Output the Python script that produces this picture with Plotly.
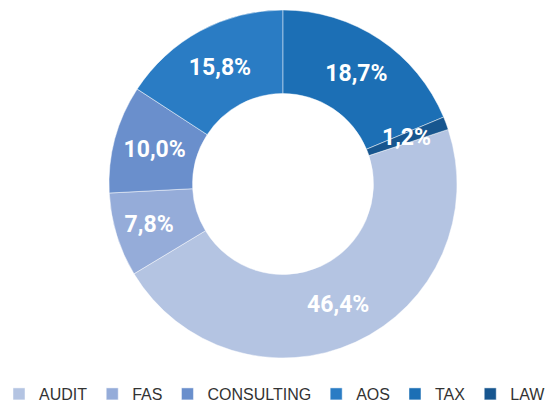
import math
import plotly.graph_objects as go

categories = ["AUDIT", "FAS", "CONSULTING", "AOS", "TAX", "LAW"]
values = [46.4, 7.8, 10.0, 15.8, 18.7, 1.2]
colors = ["#b4c4e2", "#95acd9", "#6a8fcc", "#2a7cc4", "#1c6fb5", "#17568f"]

labels_txt = [f"{v:.1f}".replace(".", ",") + "%" for v in values]

total = sum(values)
# AUDIT starts right after TAX and LAW (which start at 12 o'clock)
start_frac = (values[4] + values[5]) / total
rotation = 360 * start_frac

small = [v / total < 0.03 for v in values]
slice_text = ["" if s else t for s, t in zip(small, labels_txt)]

LBL_FONT = dict(family="Roboto, DejaVu Sans, sans-serif", size=23, color="white", weight="bold")

fig = go.Figure()
fig.add_trace(go.Pie(
    labels=categories,
    values=values,
    text=slice_text,
    textinfo="text",
    textposition="inside",
    insidetextorientation="horizontal",
    hole=0.52,
    sort=False,
    direction="clockwise",
    rotation=rotation,
    marker=dict(colors=colors, line=dict(color="rgba(255,255,255,0.6)", width=0.8)),
    textfont=LBL_FONT,
    domain=dict(x=[0, 1], y=[0, 1]),
    hoverinfo="label+percent",
))

# Labels for slices too thin for plotly to keep at full size: placed at mid-radius
W, Hh = 558, 402
M_L, M_R, M_T, M_B = 8, 0, 10, 44
plot_w = W - M_L - M_R
plot_h = Hh - M_T - M_B
R = plot_h / 2
r_mid = R * (1 + 0.52) / 2
cum = 0.0
annotations = []
for i, v in enumerate(values):
    mid = start_frac + (cum + v / 2) / total
    cum += v
    if small[i]:
        ang = 2 * math.pi * mid
        dx = r_mid * math.sin(ang) / plot_w
        dy = r_mid * math.cos(ang) / plot_h
        annotations.append(dict(
            x=0.5 + dx, y=0.5 + dy, xref="paper", yref="paper",
            xanchor="center", yanchor="middle",
            text=labels_txt[i], showarrow=False, font=LBL_FONT,
        ))

fig.update_layout(
    width=W, height=Hh,
    margin=dict(l=M_L, r=M_R, t=M_T, b=M_B, autoexpand=False),
    paper_bgcolor="white",
    plot_bgcolor="white",
    annotations=annotations,
    showlegend=True,
    legend=dict(
        orientation="h",
        x=0.5 - 8 / plot_w, xanchor="center",
        y=-36 / plot_h, yanchor="middle",
        font=dict(family="Liberation Sans, DejaVu Sans, sans-serif", size=16, color="#333333"),
        itemwidth=30,
        traceorder="normal",
    ),
)

fig.write_html("out.html", config={"displayModeBar": False},
               post_script="document.body.style.margin='0px';")
